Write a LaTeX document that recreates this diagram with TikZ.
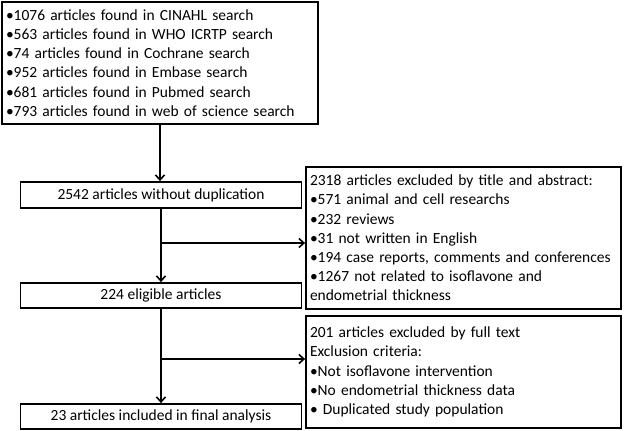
\documentclass[tikz,border=0pt]{standalone}
\usepackage{fontspec}
\setmainfont{Carlito}
\usepackage{tikz}
\usetikzlibrary{positioning,arrows.meta}

\begin{document}
\begin{tikzpicture}[x=1pt,y=1pt,
	box/.style={draw, line width=1.8pt, inner sep=4pt, font=\fontsize{15.5}{19.2}\selectfont},
	flow/.style={line width=1.8pt, -{Straight Barb[length=5pt,width=9pt,line width=1.6pt]}}]
				\useasboundingbox (0,0) rectangle (624,431);
				%%%nodes
				%search
				\node[box, minimum width=316, minimum height=122, text width=308, align=left] at (160,368) (S){%
					•1076 articles found in CINAHL search\\
					•563 articles found in WHO ICRTP search\\
					•74 articles found in Cochrane search\\
					•952 articles found in Embase search\\
					•681 articles found in Pubmed search\\
					•793 articles found in web of science search};
				%main column
				\node[box, minimum width=281, minimum height=26] at (161,236) (D){2542 articles without duplication};
				\node[box, minimum width=281, minimum height=25] at (161,135.5) (E){224 eligible articles};
				\node[box, minimum width=281, minimum height=25] at (161,14.5) (F){23 articles included in final analysis};
				%exclusions
				\node[box, minimum width=315, minimum height=142, text width=307, align=left] at (463.5,193) (X1){%
					2318 articles excluded by title and abstract:\\
					•571 animal and cell researchs\\
					•232 reviews\\
					•31 not written in English\\
					•194 case reports, comments and conferences\\
					•1267 not related to isoflavone and\\
					endometrial thickness};
				\node[box, minimum width=315, minimum height=112, text width=307, align=left] at (463.5,59) (X2){%
					201 articles excluded by full text\\
					Exclusion criteria:\\
					•Not isoflavone intervention\\
					•No endometrial thickness data\\
					• Duplicated study population};
				%%%links
				\coordinate (J1) at (161,188);
				\coordinate (J2) at (161,72);
				\draw[flow] (S.south) -- (S.south |- D.north);
				\draw[flow] (D.south) -- (E.north);
				\draw[flow] (E.south) -- (F.north);
				\draw[flow] (J1) -- (J1 -| X1.west);
				\draw[flow] (J2) -- (J2 -| X2.west);
			\end{tikzpicture}
\end{document}
